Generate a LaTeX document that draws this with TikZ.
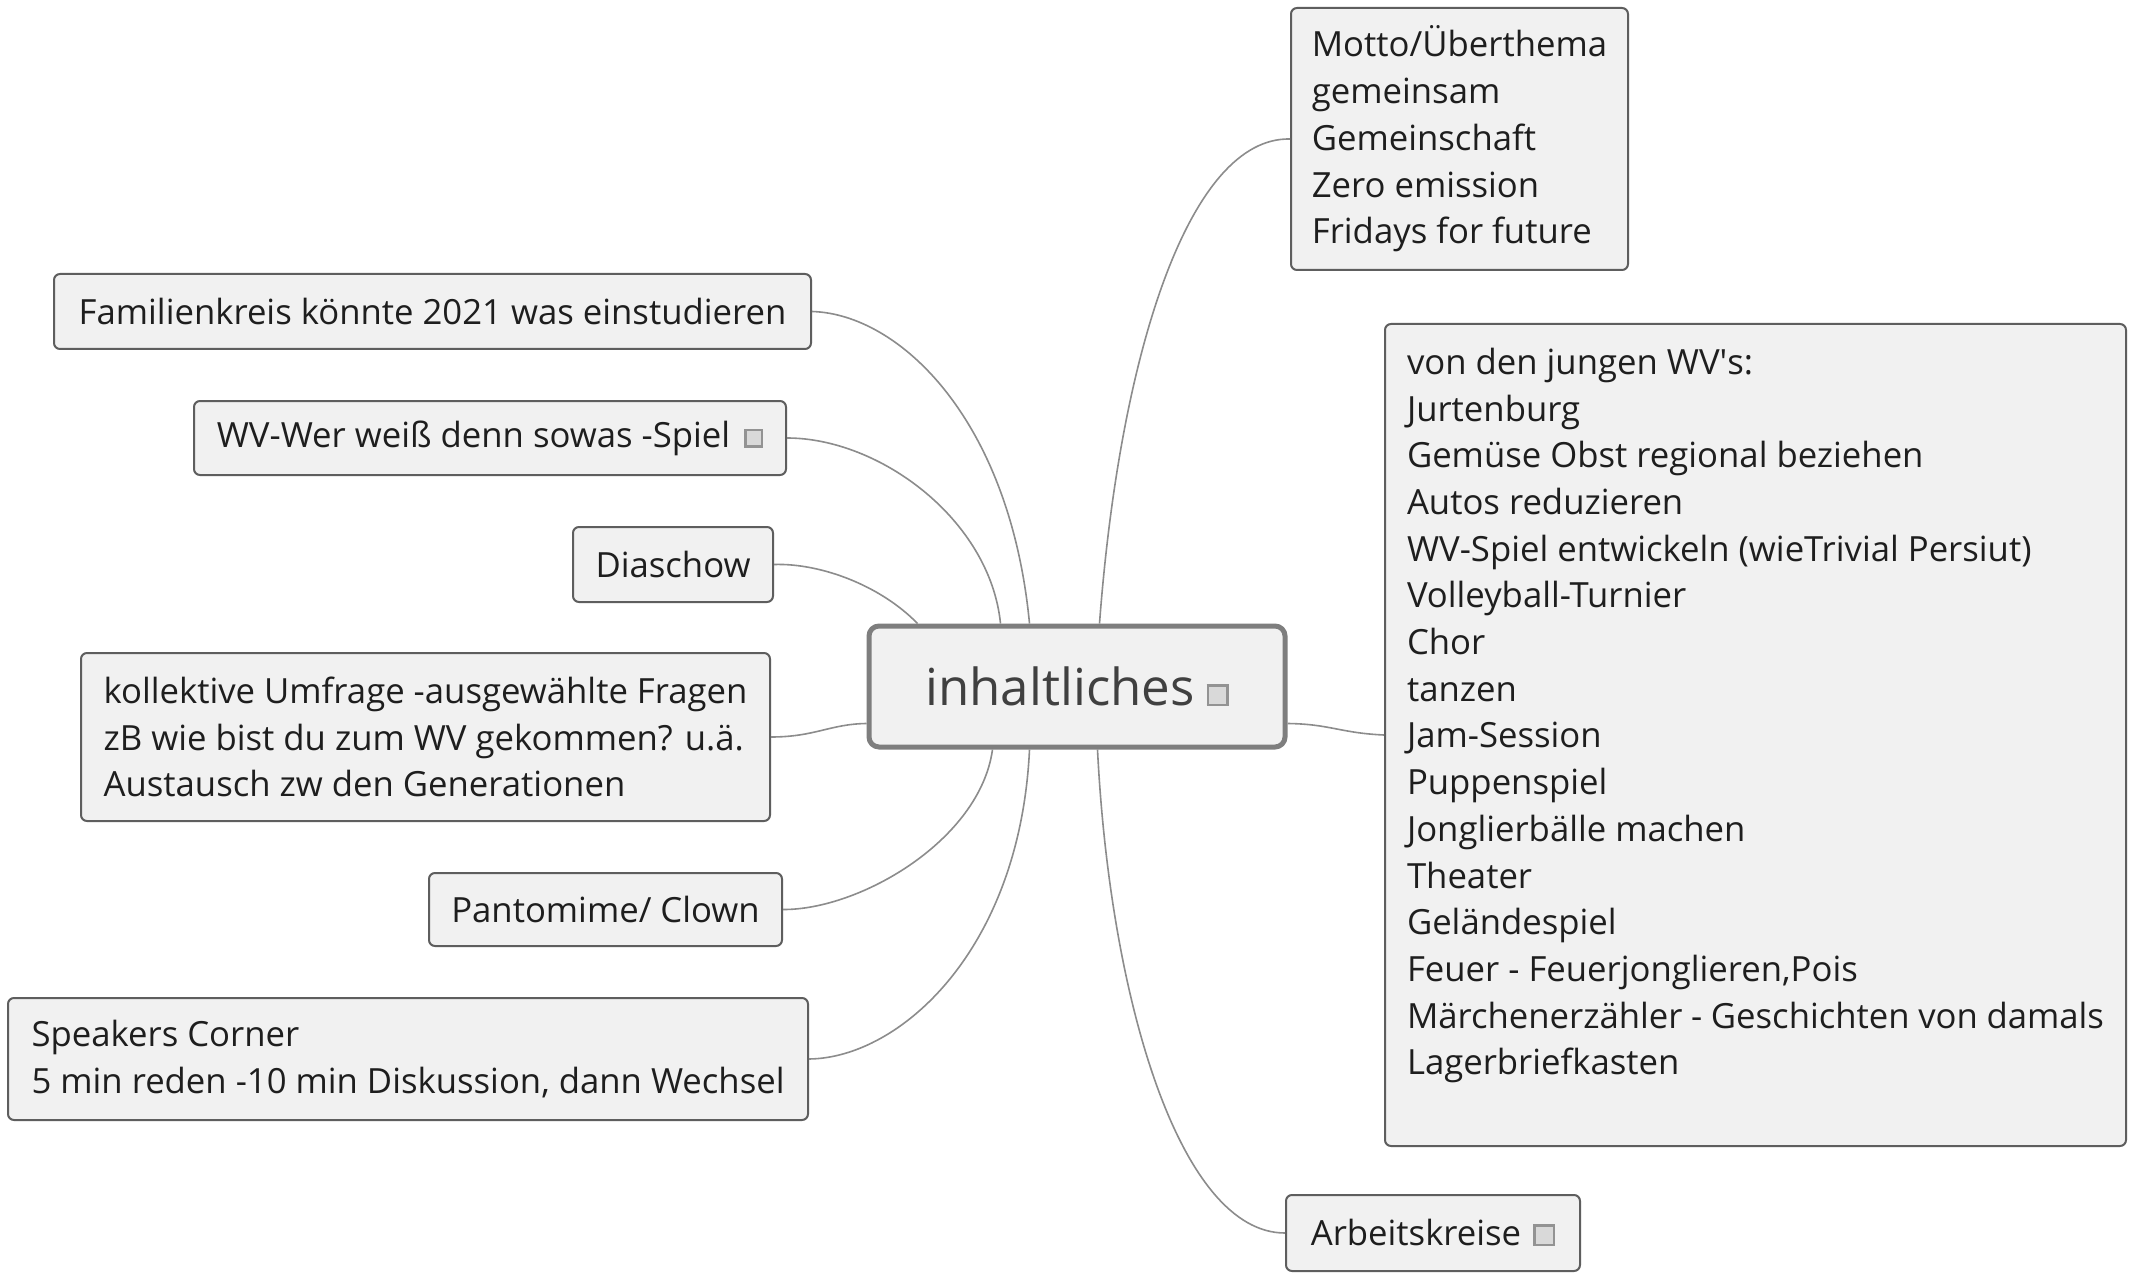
\documentclass[tikz,border=0pt]{standalone}
\usepackage{fontspec}
\setmainfont{Open Sans}
\definecolor{boxfill}{HTML}{F1F1F1}
\definecolor{boxline}{HTML}{5E5E5E}
\definecolor{ctrline}{HTML}{7E7E7E}
\definecolor{linkline}{HTML}{8C8C8C}
\definecolor{txt}{HTML}{1E1E1E}
\newcommand{\xicon}[1]{\raisebox{2pt}{\setlength{\fboxsep}{0pt}\setlength{\fboxrule}{2.5pt}\fcolorbox{gray!85}{gray!30}{\rule{0pt}{#1}\rule{#1}{0pt}}}}
\tikzset{
  topic/.style={draw=boxline, line width=2pt, fill=boxfill, rounded corners=6pt,
    text=txt, font=\fontsize{34.7}{46.7}\selectfont, align=left, inner sep=0pt},
  central/.style={draw=ctrline, line width=5pt, fill=boxfill, rounded corners=10pt,
    text=txt!85, font=\fontsize{51}{60}\selectfont, inner sep=0pt},
  link/.style={draw=linkline, line width=1.6pt}
}
\begin{document}
\begin{tikzpicture}[x=1pt,y=-1pt]
\useasboundingbox (0,0) rectangle (2129,1273);
\fill[white] (0,0) rectangle (2129,1273);

% central topic
\node[central, minimum width=416, minimum height=121] (ctr) at (1077,686.5)
  {inhaltliches\hspace{12pt}\xicon{17pt}};

% left side
\node[topic, minimum width=757, minimum height=75] (fam) at (432.5,311.5)
  {Familienkreis könnte 2021 was einstudieren};
\node[topic, minimum width=592, minimum height=74] (wv) at (490,438)
  {WV-Wer weiß denn sowas -Spiel\hspace{14pt}\xicon{14pt}};
\node[topic, minimum width=200, minimum height=75] (dia) at (673,564.5)
  {Diaschow};
\node[topic, minimum width=689, minimum height=168] (kol) at (425.5,737)
  {kollektive Umfrage -ausgewählte Fragen\\zB wie bist du zum WV gekommen? u.ä.\\Austausch zw den Generationen};
\node[topic, minimum width=353, minimum height=73] (pan) at (605.5,909.5)
  {Pantomime/ Clown};
\node[topic, minimum width=800, minimum height=122] (spk) at (408,1059)
  {Speakers Corner\\5 min reden -10 min Diskussion, dann Wechsel};

% right side
\node[topic, minimum width=337, minimum height=262] (mot) at (1459.5,139)
  {Motto/Überthema\\gemeinsam\\Gemeinschaft\\Zero emission\\Fridays for future};
\node[topic, anchor=north west, inner xsep=22pt, inner ysep=24pt] (big) at (1384,323)
  {\parbox[c][774pt][t]{697pt}{\raggedright
   von den jungen WV\textquotesingle s:\\
   Jurtenburg\\
   Gemüse Obst regional beziehen\\
   Autos reduzieren\\
   WV-Spiel entwickeln (wieTrivial Persiut)\\
   Volleyball-Turnier\\
   Chor\\
   tanzen\\
   Jam-Session\\
   Puppenspiel\\
   Jonglierbälle machen\\
   Theater\\
   Geländespiel\\
   Feuer - Feuerjonglieren,Pois\\
   Märchenerzähler - Geschichten von damals\\
   Lagerbriefkasten}};
\node[topic, minimum width=294, minimum height=76] (ark) at (1433,1233)
  {Arbeitskreise\hspace{12pt}\xicon{17pt}};

% connectors
\draw[link] (ctr.north west) ++(163,0) coordinate (c1)
  .. controls (1010,420) and (900,314) .. (fam.east);
\draw[link] (ctr.north west) ++(134,0) coordinate (c2)
  .. controls (990,520) and (880,438) .. (wv.east);
\draw[link] (ctr.north west) ++(51,0) coordinate (c3)
  .. controls (880,585) and (820,563) .. (dia.east);
\draw[link] (ctr.west) ++(0,37) coordinate (c4)
  .. controls (830,724) and (815,737) .. (kol.east);
\draw[link] (ctr.south west) ++(126,0) coordinate (c5)
  .. controls (980,840) and (860,910) .. (pan.east);
\draw[link] (ctr.south west) ++(163,0) coordinate (c6)
  .. controls (1020,950) and (900,1058) .. (spk.east);
\draw[link] (ctr.south west) ++(231,0) coordinate (c7)
  .. controls (1110,1000) and (1180,1233) .. (ark.west);
\draw[link] (ctr.north west) ++(233,0) coordinate (c8)
  .. controls (1120,350) and (1190,137) .. (mot.west);
\draw[link] (ctr.east) ++(0,37) coordinate (c9)
  .. controls (1330,724) and (1340,733) .. (big.west);
\end{tikzpicture}
\end{document}
